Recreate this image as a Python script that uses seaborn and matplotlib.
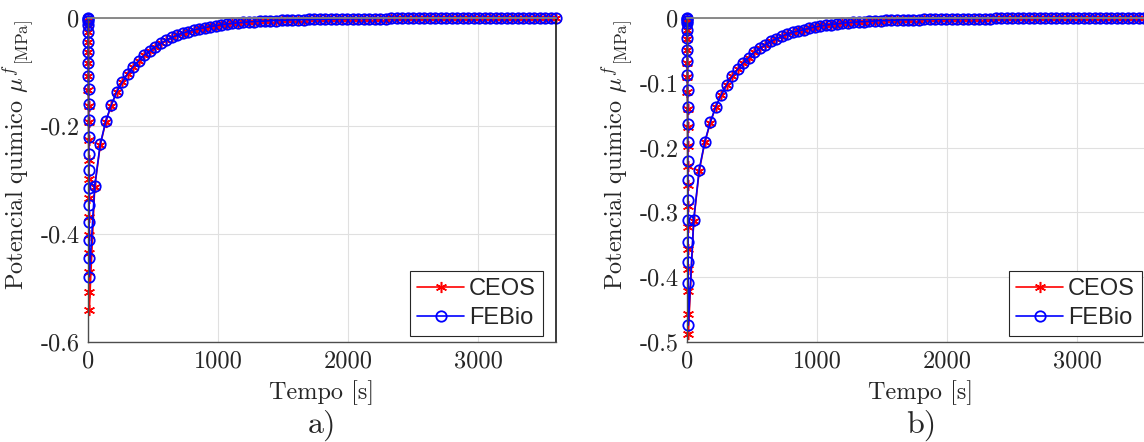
import matplotlib
matplotlib.use("Agg")
import pandas as pd
import matplotlib.pyplot as plt
import seaborn as sns


# =====================
# DATA
# =====================

# loading ramp, t in [0, 10] s
ramp_t = [0.0, 0.5, 1.0, 1.5, 2.0, 2.5, 3.0, 3.5, 4.0, 4.5, 5.0,
          5.5, 6.0, 6.5, 7.0, 7.5, 8.0, 8.5, 9.0, 9.5, 10.0]

ramp_ceos_a = [0.0, -0.005, -0.013, -0.025, -0.044, -0.062, -0.084, -0.107,
               -0.133, -0.162, -0.193, -0.226, -0.262, -0.298, -0.333, -0.368,
               -0.402, -0.436, -0.471, -0.507, -0.541]
ramp_febio_a = [0.0, -0.002, -0.005, -0.013, -0.025, -0.044, -0.062, -0.084,
                -0.107, -0.132, -0.160, -0.189, -0.220, -0.252, -0.281, -0.314,
                -0.346, -0.377, -0.411, -0.445, -0.479]

ramp_ceos_b = [0.0, -0.004, -0.008, -0.019, -0.032, -0.050, -0.069, -0.091,
               -0.114, -0.141, -0.168, -0.197, -0.228, -0.258, -0.290, -0.322,
               -0.356, -0.388, -0.422, -0.456, -0.488]
ramp_febio_b = [0.0, -0.002, -0.004, -0.008, -0.019, -0.031, -0.049, -0.067,
                -0.088, -0.111, -0.137, -0.163, -0.191, -0.221, -0.250, -0.281,
                -0.312, -0.345, -0.376, -0.409, -0.474]

# relaxation phase, t in (10, 3600] s
relax_t = [52, 94, 137, 179, 221, 263, 306, 348, 390, 432,
           475, 517, 559, 601, 644, 686, 728, 770, 813, 855,
           897, 939, 982, 1024, 1066, 1108, 1151, 1193, 1235, 1277,
           1320, 1362, 1404, 1446, 1489, 1531, 1573, 1615, 1658, 1700,
           1742, 1784, 1826, 1869, 1911, 1953, 1995, 2038, 2080, 2122,
           2164, 2207, 2249, 2291, 2333, 2376, 2418, 2460, 2502, 2545,
           2587, 2629, 2671, 2714, 2756, 2798, 2840, 2883, 2925, 2967,
           3009, 3052, 3094, 3136, 3178, 3221, 3263, 3305, 3347, 3390,
           3432, 3474, 3516, 3558, 3600]

relax_febio = [-0.311, -0.234, -0.191, -0.161, -0.137, -0.119, -0.103, -0.090, -0.079, -0.069,
               -0.061, -0.053, -0.047, -0.041, -0.036, -0.032, -0.028, -0.025, -0.022, -0.020,
               -0.018, -0.016, -0.014, -0.0125, -0.0112, -0.0100, -0.0090, -0.0081, -0.0073, -0.0066,
               -0.0060, -0.0055, -0.0050, -0.0046, -0.0042, -0.0038, -0.0035, -0.0032, -0.0029, -0.0027,
               -0.0025, -0.0023, -0.0021, -0.0019, -0.0018, -0.0016, -0.0015, -0.0014, -0.0013, -0.0012,
               -0.0011, -0.0010, -0.0009, -0.0009, -0.0008, -0.0007, -0.0007, -0.0006, -0.0006, -0.0005,
               -0.0005, -0.0005, -0.0004, -0.0004, -0.0004, -0.0003, -0.0003, -0.0003, -0.0003, -0.0002,
               -0.0002, -0.0002, -0.0002, -0.0002, -0.0002, -0.0001, -0.0001, -0.0001, -0.0001, -0.0001,
               -0.0001, -0.0001, 0.0, 0.0, 0.0]

relax_ceos = [-0.313, -0.236, -0.192, -0.162, -0.137, -0.119, -0.103, -0.090, -0.079, -0.069,
              -0.061, -0.053, -0.047, -0.041, -0.036, -0.032, -0.028, -0.025, -0.022, -0.020,
              -0.018, -0.016, -0.014, -0.0125, -0.0112, -0.0100, -0.0090, -0.0081, -0.0073, -0.0066,
              -0.0060, -0.0055, -0.0050, -0.0046, -0.0042, -0.0038, -0.0035, -0.0032, -0.0029, -0.0027,
              -0.0025, -0.0023, -0.0021, -0.0019, -0.0018, -0.0016, -0.0015, -0.0014, -0.0013, -0.0012,
              -0.0011, -0.0010, -0.0009, -0.0009, -0.0008, -0.0007, -0.0007, -0.0006, -0.0006, -0.0005,
              -0.0005, -0.0005, -0.0004, -0.0004, -0.0004, -0.0003, -0.0003, -0.0003, -0.0003, -0.0002,
              -0.0002, -0.0002, -0.0002, -0.0002, -0.0002, -0.0001, -0.0001, -0.0001, -0.0001, -0.0001,
              -0.0001, -0.0001, 0.0, 0.0, 0.0]

x_ticks = [0, 1000, 2000, 3000]
x_ticklabels = ["0", "1000", "2000", "3000"]

y_ticks_a = [0, -0.2, -0.4, -0.6]
y_ticklabels_a = ["0", "-0.2", "-0.4", "-0.6"]
y_ticks_b = [0, -0.1, -0.2, -0.3, -0.4, -0.5]
y_ticklabels_b = ["0", "-0.1", "-0.2", "-0.3", "-0.4", "-0.5"]


# =====================
# STYLE
# =====================

sns.set_style("white")
plt.rcParams["font.family"] = ["cmr10"]
plt.rcParams["mathtext.fontset"] = "cm"
plt.rcParams["axes.unicode_minus"] = False
plt.rcParams["axes.formatter.use_mathtext"] = True

fig = plt.figure(figsize=(11.44, 4.42), dpi=100)

ax_a = fig.add_axes([0.0769, 0.2262, 0.4091, 0.7330])
ax_b = fig.add_axes([0.6005, 0.2262, 0.4091, 0.7330])


def draw_panel(ax, ramp_ceos, ramp_febio, y_ticks, y_ticklabels, y_min, tag):
    df = pd.DataFrame({
        "t": ramp_t + relax_t,
        "ceos": ramp_ceos + relax_ceos,
        "febio": ramp_febio + relax_febio,
    })

    sns.lineplot(
        data=df, x="t", y="ceos", ax=ax,
        color="red", linewidth=1.2,
        marker=(6, 2, 0), markersize=8,
        markeredgecolor="red", markeredgewidth=1.1,
        sort=False, estimator=None, label="CEOS", clip_on=False
    )
    sns.lineplot(
        data=df, x="t", y="febio", ax=ax,
        color="blue", linewidth=1.2,
        marker="o", markersize=7.5,
        markerfacecolor="none", markeredgecolor="blue", markeredgewidth=1.3,
        sort=False, estimator=None, label="FEBio", clip_on=False
    )

    ax.set_xlim(0, 3600)
    ax.set_ylim(y_min, 0)
    ax.set_xticks(x_ticks)
    ax.set_xticklabels(x_ticklabels)
    ax.set_yticks(y_ticks)
    ax.set_yticklabels(y_ticklabels)

    ax.grid(True, color="0.88", linewidth=0.8)
    ax.set_axisbelow(True)

    ax.tick_params(direction="in", length=4, width=0.8, color="0.25",
                   labelsize=17.5, pad=6)

    for side in ["left", "bottom"]:
        ax.spines[side].set_color("0.3")
        ax.spines[side].set_linewidth(1.0)
    ax.spines["top"].set_color("0.5")
    ax.spines["top"].set_linewidth(1.3)
    ax.spines["right"].set_color("0.1")
    ax.spines["right"].set_linewidth(1.2)

    ax.set_xlabel("Tempo [s]", fontsize=17.5)
    ax.xaxis.set_label_coords(0.5, -0.118)
    ax.set_ylabel(r"Potencial quimico $\mu^{f}{}_{\mathrm{[MPa]}}$", fontsize=17.5)
    ax.yaxis.set_label_coords(-0.112, 0.577)

    leg = ax.legend(
        loc="lower right", bbox_to_anchor=(0.972, 0.018), borderaxespad=0,
        prop={"family": "Liberation Sans", "size": 17},
        frameon=True, fancybox=False, edgecolor="0.15", framealpha=1,
        handlelength=2.0, handletextpad=0.2, labelspacing=0.3, borderpad=0.3
    )
    leg.get_frame().set_linewidth(0.8)

    pos = ax.get_position()
    fig.text(pos.x0 + pos.width / 2, 0.003, tag, fontsize=23,
             ha="center", va="bottom")


draw_panel(ax_a, ramp_ceos_a, ramp_febio_a, y_ticks_a, y_ticklabels_a, -0.6, "a)")
draw_panel(ax_b, ramp_ceos_b, ramp_febio_b, y_ticks_b, y_ticklabels_b, -0.5, "b)")

fig.savefig("out.png", dpi=100)
plt.close(fig)
